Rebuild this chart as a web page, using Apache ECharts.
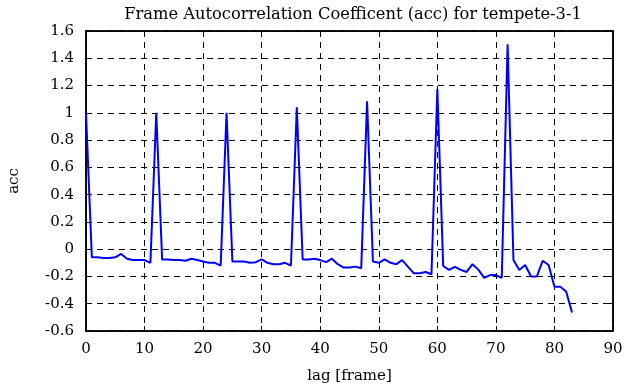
<!DOCTYPE html>
<html><head><meta charset="utf-8">
<script src="https://cdn.jsdelivr.net/npm/echarts@6/dist/echarts.min.js"></script>
<style>html,body{margin:0;padding:0;background:#fff}#c{width:630px;height:387px}</style>
</head><body><div id="c"></div>
<script>
const titleText = 'Frame Autocorrelation Coefficent (acc) for tempete-3-1';
const xName = 'lag [frame]';
const yName = 'acc';
const lags = Array.from({length: 84}, (_, i) => i);
const acc = [
 1.0, -0.06, -0.06, -0.065, -0.065, -0.06, -0.035, -0.07, -0.08, -0.08, -0.08, -0.1,
 1.0, -0.075, -0.075, -0.08, -0.08, -0.085, -0.07, -0.08, -0.09, -0.1, -0.1, -0.12,
 1.0, -0.09, -0.09, -0.09, -0.1, -0.095, -0.075, -0.1, -0.11, -0.11, -0.1, -0.12,
 1.04, -0.075, -0.075, -0.07, -0.08, -0.095, -0.07, -0.11, -0.135, -0.135, -0.128, -0.14,
 1.084, -0.09, -0.1, -0.075, -0.1, -0.11, -0.08, -0.13, -0.177, -0.177, -0.167, -0.184,
 1.174, -0.123, -0.152, -0.13, -0.152, -0.167, -0.11, -0.15, -0.21, -0.19, -0.19, -0.21,
 1.502, -0.08, -0.152, -0.116, -0.2, -0.2, -0.085, -0.116, -0.275, -0.275, -0.31, -0.465
];
const xMin = 0, xMax = 90, xStep = 10;
const yMin = -0.6, yMax = 1.6, yStep = 0.2;

const font = 'DejaVu Serif';
const chart = echarts.init(document.getElementById('c'), null, {renderer: 'canvas'});
const axisLineStyle = {onZero: false, lineStyle: {color: '#000', width: 1.5}};
chart.setOption({
  animation: false,
  title: {text: titleText, left: 348, textAlign: 'center', top: 2,
    textStyle: {fontFamily: font, fontSize: 16.3, fontWeight: 'normal', color: '#000'}},
  grid: {left: 86, right: 17, top: 31, bottom: 56, show: true, borderColor: '#000', borderWidth: 1.5,
    containLabel: false, outerBoundsMode: 'none'},
  xAxis: [{
    type: 'value', min: xMin, max: xMax, interval: xStep,
    name: xName, nameLocation: 'middle', nameGap: 38,
    nameTextStyle: {fontFamily: font, fontSize: 15, color: '#000'},
    axisLine: axisLineStyle,
    axisTick: {inside: true, length: 5, lineStyle: {color: '#000'}},
    axisLabel: {fontFamily: font, fontSize: 15, color: '#000', margin: 11},
    splitLine: {show: true, lineStyle: {color: '#000', type: [6, 5], width: 1}}
  }, {
    type: 'value', min: xMin, max: xMax, interval: xStep, position: 'top',
    axisLine: axisLineStyle,
    axisTick: {inside: true, length: 5, lineStyle: {color: '#000'}},
    axisLabel: {show: false}, splitLine: {show: false}
  }],
  yAxis: [{
    type: 'value', min: yMin, max: yMax, interval: yStep,
    name: yName, nameLocation: 'middle', nameGap: 64, nameRotate: 90,
    nameTextStyle: {fontFamily: font, fontSize: 15, color: '#000'},
    axisLine: axisLineStyle,
    axisTick: {inside: true, length: 5, lineStyle: {color: '#000'}},
    axisLabel: {fontFamily: font, fontSize: 15, color: '#000', margin: 12,
      formatter: v => String(Math.round(v * 10) / 10)},
    splitLine: {show: true, lineStyle: {color: '#000', type: [6, 5], width: 1}}
  }, {
    type: 'value', min: yMin, max: yMax, interval: yStep, position: 'right',
    axisLine: axisLineStyle,
    axisTick: {inside: true, length: 5, lineStyle: {color: '#000'}},
    axisLabel: {show: false}, splitLine: {show: false}
  }],
  series: [{
    type: 'line', xAxisIndex: 0, yAxisIndex: 0,
    data: lags.map((l, i) => [l, acc[i]]),
    showSymbol: false, symbol: 'none',
    lineStyle: {color: '#0000ff', width: 2}
  }]
});
</script></body></html>
